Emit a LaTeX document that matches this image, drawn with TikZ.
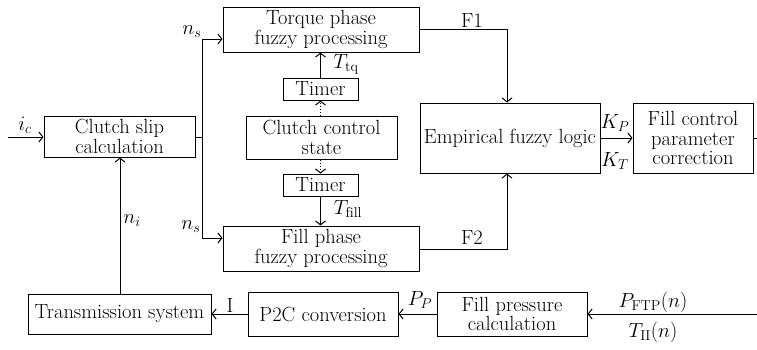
\documentclass[tikz,border=0pt]{standalone}
\usepackage{fix-cm}
\usepackage{fontspec}
\usetikzlibrary{arrows.meta}
\begin{document}
\begin{tikzpicture}[x=1pt,y=-1pt,
  blk/.style={draw,line width=1pt,align=center,inner sep=0pt,font=\fontsize{20.5}{19.5}\selectfont},
  lbl/.style={inner sep=0pt,font=\fontsize{20.5}{19.5}\selectfont},
  conn/.style={line width=1pt,-{Straight Barb[length=4pt,width=10pt]}},
  dconn/.style={line width=1pt,dotted,-{Straight Barb[length=4pt,width=10pt]}},
  plain/.style={line width=1pt}]
\useasboundingbox (0,0) rectangle (757,349);
% blocks
\node[blk,minimum width=196pt,minimum height=45pt] (tq) at (321,29.5) {Torque phase\\fuzzy processing};
\node[blk,minimum width=151pt,minimum height=41pt] (cs) at (119.5,136.5) {Clutch slip\\calculation};
\node[blk,minimum width=75pt,minimum height=22pt] (t1) at (320.5,89) {Timer};
\node[blk,minimum width=151pt,minimum height=43pt] (cc) at (321.5,137.5) {Clutch control\\state};
\node[blk,minimum width=75pt,minimum height=22pt] (t2) at (320.5,185) {Timer};
\node[blk,minimum width=196pt,minimum height=45pt] (fp) at (321,248.5) {Fill phase\\fuzzy processing};
\node[blk,minimum width=180pt,minimum height=70pt] (ef) at (510,138) {Empirical fuzzy logic};
\node[blk,minimum width=120pt,minimum height=70pt] (fc) at (693,138) {Fill control\\parameter\\correction};
\node[blk,minimum width=183pt,minimum height=40pt] (ts) at (119.5,314) {Transmission system};
\node[blk,minimum width=150pt,minimum height=44pt] (pc) at (323,314) {P2C conversion};
\node[blk,minimum width=150pt,minimum height=44pt] (pr) at (512,314) {Fill pressure\\calculation};
% coordinates
\coordinate (icin) at (8,137);
\coordinate (br) at (202,137);
\coordinate (brt) at (202,39);
\coordinate (brb) at (202,238);
\coordinate (f1c) at (507,29);
\coordinate (f2c) at (507,249);
\coordinate (fcout) at (757,138);
\coordinate (pin) at (757,314);
% connectors
\draw[conn] (icin) -- (cs.west |- icin);
\draw[plain] (cs.east |- br) -- (br);
\draw[plain] (brt) -- (brb);
\draw[conn] (brt) -- (tq.west |- brt);
\draw[conn] (brb) -- (fp.west |- brb);
\draw[conn] (ts.north -| 120,0) -- (cs.south -| 120,0);
\draw[conn] (t1.north) -- (tq.south -| t1.north);
\draw[dconn] (cc.north -| t1.south) -- (t1.south);
\draw[dconn] (cc.south -| t2.north) -- (t2.north);
\draw[conn] (t2.south) -- (fp.north -| t2.south);
\draw[conn] (tq.east |- f1c) -- (f1c) -- (ef.north -| f1c);
\draw[conn] (fp.east |- f2c) -- (f2c) -- (ef.south -| f2c);
\draw[conn] (ef.east) -- (fc.west);
\draw[plain] (fc.east) -- (fcout);
\draw[conn] (pin) -- (pr.east);
\draw[conn] (pr.west) -- (pc.east);
\draw[conn] (pc.west) -- (ts.east);
% labels
\node[lbl] (lic) at (25,125) {$i_c$};
\node[lbl] (lns1) at (192,32) {$n_s$};
\node[lbl] (lns2) at (191,227) {$n_s$};
\node[lbl] (lni) at (132,221) {$n_i$};
\node[lbl] (ltq) at (346,64) {$T_{\mathrm{tq}}$};
\node[lbl] (ltf) at (348,209) {$T_{\mathrm{fill}}$};
\node[lbl] (lf1) at (472,21) {F1};
\node[lbl] (lf2) at (472,238) {F2};
\node[lbl] (lkp) at (615,123) {$K_P$};
\node[lbl] (lkt) at (615,161) {$K_T$};
\node[lbl] (lpp) at (420,300) {$P_P$};
\node[lbl] (li) at (230,305) {I};
\node[lbl] (lpftp) at (653,302) {$P_{\mathrm{FTP}}(n)$};
\node[lbl] (ltii) at (653,332) {$T_{\mathrm{II}}(n)$};
\end{tikzpicture}
\end{document}
